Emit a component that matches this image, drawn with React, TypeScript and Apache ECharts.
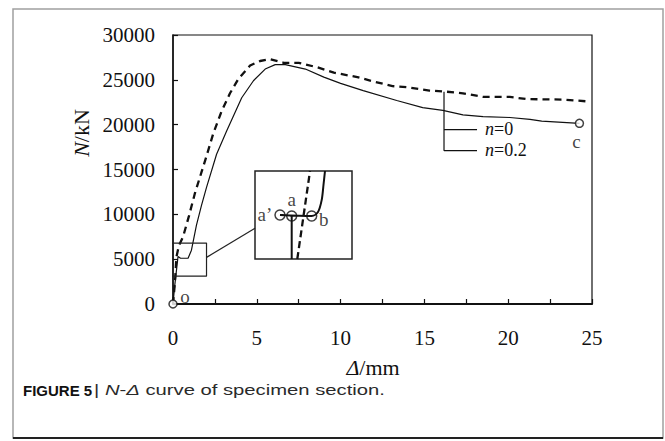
import React, { useEffect, useRef } from "react";
import * as echarts from "echarts";

// Main curves (Δ in mm, N in kN)
const deltaN0 = [0, 0.1, 0.3, 0.45, 0.9, 1.1, 1.4, 1.7, 2.0, 2.6, 3.2, 4.1, 4.8, 5.5, 6.1, 6.7, 7.9, 9.0, 10.0, 11.35, 13.35, 14.9, 16.1, 17.3, 18.5, 20.1, 21.3, 22.0, 24.25];
const loadN0 = [0, 2000, 5300, 5100, 5100, 6000, 8800, 11000, 13000, 16700, 19300, 23000, 24900, 26200, 26700, 26700, 26200, 25300, 24600, 23800, 22700, 21900, 21600, 21100, 20900, 20800, 20600, 20400, 20150];

const deltaN02 = [0, 0.12, 0.2, 0.35, 0.6, 0.95, 1.3, 1.7, 2.0, 2.4, 2.9, 3.4, 3.9, 4.6, 5.2, 5.8, 6.6, 7.5, 8.6, 9.6, 11.0, 12.0, 13.1, 14.1, 15.3, 16.2, 17.3, 18.5, 20.1, 21.1, 23.3, 24.7];
const loadN02 = [0, 2500, 5200, 6500, 7500, 9800, 12300, 14700, 16500, 19000, 21500, 23500, 25100, 26600, 27100, 27300, 26900, 26900, 26400, 25800, 25300, 24800, 24300, 24150, 23800, 23700, 23500, 23100, 23100, 22850, 22800, 22600];

// Marked points on the main chart
const mainPointNames = ["o", "c"];
const mainPointX = [0, 24.25];
const mainPointY = [0, 20150];

// Zoom window (small box) in data units
const zoomX = [-0.5, 2.0];
const zoomY = [3100, 6800];
// Connector from zoom window to inset (data units of main chart)
const connectorX = [2.0, 4.893];
const connectorY = [5200, 8450];

// Inset (detail) curves, in the zoom window's data units
const insetSolidX = [0.446, 0.446, 0.144, 0.961, 1.124, 1.219, 1.265, 1.304];
const insetSolidY = [3100, 4908, 4950, 4908, 5076, 5581, 6211, 6800];
const insetDashX = [0.59, 0.918];
const insetDashY = [3100, 6800];
const insetPointNames = ["a\u2019", "a", "b"];
const insetPointX = [0.144, 0.446, 0.961];
const insetPointY = [4950, 4908, 4908];

// Legend bracket (data units)
const bracketX = [16.17, 18.14];
const bracketY = [23670, 19440, 17110];
const legendNames = ["n=0", "n=0.2"];

const xTickLabels = [0, 5, 10, 15, 20, 25];
const yTickLabels = [0, 5000, 10000, 15000, 20000, 25000, 30000];

const zip = (xs: number[], ys: number[]) => xs.map((x, i) => [x, ys[i]]);

export default function App() {
  const ref = useRef<HTMLDivElement>(null);
  useEffect(() => {
    if (!ref.current) return;
    const chart = echarts.init(ref.current, undefined, { renderer: "svg" });
    const serif = "'Liberation Serif', 'Times New Roman', serif";
    const sans = "'Liberation Sans', Arial, sans-serif";
    const ink = "#111";
    const lineStyleThin = { color: ink, width: 1.2 };

    const option: any = {
      animation: false,
      backgroundColor: "#fff",
      grid: [
        { left: 173, top: 35, right: 73, bottom: 137, show: true, borderColor: ink, borderWidth: 1.2, backgroundColor: "transparent" },
        { left: 255, top: 171, width: 97, height: 88, show: true, borderColor: "#222", borderWidth: 1.5, backgroundColor: "#fff" },
      ],
      xAxis: [
        {
          type: "value", gridIndex: 0, min: 0, max: 25, interval: 2.5,
          axisLine: { show: true, onZero: false, lineStyle: { color: ink, width: 2 } },
          axisTick: { show: true, inside: true, length: 5, lineStyle: { color: ink, width: 1.2 } },
          splitLine: { show: false },
          axisLabel: {
            margin: 23, fontFamily: serif, fontSize: 21, color: ink,
            formatter: (v: number) => (xTickLabels.indexOf(v) >= 0 ? String(v) : ""),
          },
        },
        { type: "value", gridIndex: 1, min: zoomX[0], max: zoomX[1], show: false, splitLine: { show: false } },
      ],
      yAxis: [
        {
          type: "value", gridIndex: 0, min: 0, max: 30000, interval: 5000,
          axisLine: { show: true, onZero: false, lineStyle: { color: ink, width: 1.5 } },
          axisTick: { show: true, inside: true, length: 5, lineStyle: { color: ink, width: 1.2 } },
          splitLine: { show: false },
          axisLabel: {
            margin: 18, fontFamily: serif, fontSize: 21, color: ink,
            formatter: (v: number) => (yTickLabels.indexOf(v) >= 0 ? String(v) : ""),
          },
        },
        { type: "value", gridIndex: 1, min: zoomY[0], max: zoomY[1], show: false, splitLine: { show: false } },
      ],
      series: [
        {
          name: "n=0", type: "line", data: zip(deltaN0, loadN0), showSymbol: false, symbol: "none",
          lineStyle: lineStyleThin, z: 3,
        },
        {
          name: "n=0.2", type: "line", data: zip(deltaN02, loadN02), showSymbol: false, symbol: "none",
          lineStyle: { color: ink, width: 2.3, type: [7, 5] }, z: 3,
        },
        {
          type: "line", symbol: "none", clip: false, z: 4,
          data: [[zoomX[0], zoomY[0]], [zoomX[1], zoomY[0]], [zoomX[1], zoomY[1]], [zoomX[0], zoomY[1]], [zoomX[0], zoomY[0]]],
          lineStyle: { color: "#222", width: 1.2 },
        },
        {
          type: "line", symbol: "none", z: 4, data: zip(connectorX, connectorY),
          lineStyle: { color: "#222", width: 1.2 },
        },
        {
          type: "line", symbol: "none", z: 4,
          data: [[bracketX[0], bracketY[0]], [bracketX[0], bracketY[2]], [bracketX[1], bracketY[2]]],
          lineStyle: { color: ink, width: 1.2 },
        },
        {
          type: "line", symbol: "none", z: 4,
          data: [[bracketX[0], bracketY[1]], [bracketX[1], bracketY[1]]],
          lineStyle: { color: ink, width: 1.2 },
        },
        {
          type: "scatter", z: 5, symbol: "circle", symbolSize: 8, clip: false,
          itemStyle: { color: "#fff", borderColor: ink, borderWidth: 1.5 },
          data: mainPointNames.map((n, i) => ({
            value: [mainPointX[i], mainPointY[i]],
            label: {
              show: true, formatter: n, position: "inside",
              offset: i === 0 ? [12, -8] : [-3, 18],
              fontFamily: serif, fontSize: 19, color: ink,
            },
          })),
        },
        {
          type: "line", xAxisIndex: 1, yAxisIndex: 1, symbol: "none", z: 6,
          data: zip(insetSolidX, insetSolidY), smooth: 0.3,
          lineStyle: { color: ink, width: 2 },
        },
        {
          type: "line", xAxisIndex: 1, yAxisIndex: 1, symbol: "none", z: 6,
          data: zip(insetDashX, insetDashY),
          lineStyle: { color: ink, width: 2.3, type: [7, 4] },
        },
        {
          type: "scatter", xAxisIndex: 1, yAxisIndex: 1, z: 7, symbol: "circle", symbolSize: 10,
          itemStyle: { color: "transparent", borderColor: ink, borderWidth: 1.5 },
          data: insetPointNames.map((n, i) => ({
            value: [insetPointX[i], insetPointY[i]],
            label: {
              show: true, formatter: n, position: "inside",
              offset: i === 0 ? [-15, -1] : i === 1 ? [0, -16] : [12, 4],
              fontFamily: serif, fontSize: 19, color: ink,
            },
          })),
        },
      ],
      graphic: [
        { type: "rect", shape: { x: 13, y: 9, width: 650, height: 429 }, style: { fill: "none", stroke: "#a0a0a0", lineWidth: 1.5 }, z: 0 },
        { type: "line", shape: { x1: 13, y1: 438, x2: 663, y2: 438 }, style: { stroke: "#222", lineWidth: 2 }, z: 1 },
        {
          type: "text", x: 81, y: 133, rotation: Math.PI / 2,
          style: {
            text: "{i|N}/kN", align: "center", verticalAlign: "middle",
            fontFamily: serif, fontSize: 22, fill: ink,
            rich: { i: { fontStyle: "italic", fontFamily: serif, fontSize: 22, fill: ink } },
          },
        },
        {
          type: "text", x: 373, y: 367,
          style: {
            text: "{i|\u0394}/mm", align: "center", verticalAlign: "middle",
            fontFamily: serif, fontSize: 22, fill: ink,
            rich: { i: { fontStyle: "italic", fontFamily: serif, fontSize: 22, fill: ink } },
          },
        },
        ...legendNames.map((n, i) => ({
          type: "text", x: 485, y: i === 0 ? 129 : 150,
          style: {
            text: "{i|n}" + n.slice(1), align: "left", verticalAlign: "middle",
            fontFamily: serif, fontSize: 18, fill: ink,
            rich: { i: { fontStyle: "italic", fontFamily: serif, fontSize: 18, fill: ink } },
          },
        })),
        {
          type: "text", x: 23, y: 390,
          style: {
            text: "FIGURE 5", align: "left", verticalAlign: "middle",
            fontFamily: sans, fontWeight: "bold", fontSize: 15, fill: "#111",
          },
        },
        {
          type: "text", x: 94, y: 390, scaleX: 1.35,
          style: {
            text: "| {i|N}-{i|\u0394} curve of specimen section.",
            align: "left", verticalAlign: "middle",
            fontFamily: sans, fontSize: 15, fill: "#2a2a2a",
            rich: {
              i: { fontStyle: "italic", fontFamily: sans, fontSize: 15, fill: "#2a2a2a" },
            },
          },
        },
      ],
    };
    chart.setOption(option);
    return () => chart.dispose();
  }, []);
  return <div ref={ref} style={{ width: 665, height: 441, position: "absolute", left: 0, top: 0 }} />;
}
